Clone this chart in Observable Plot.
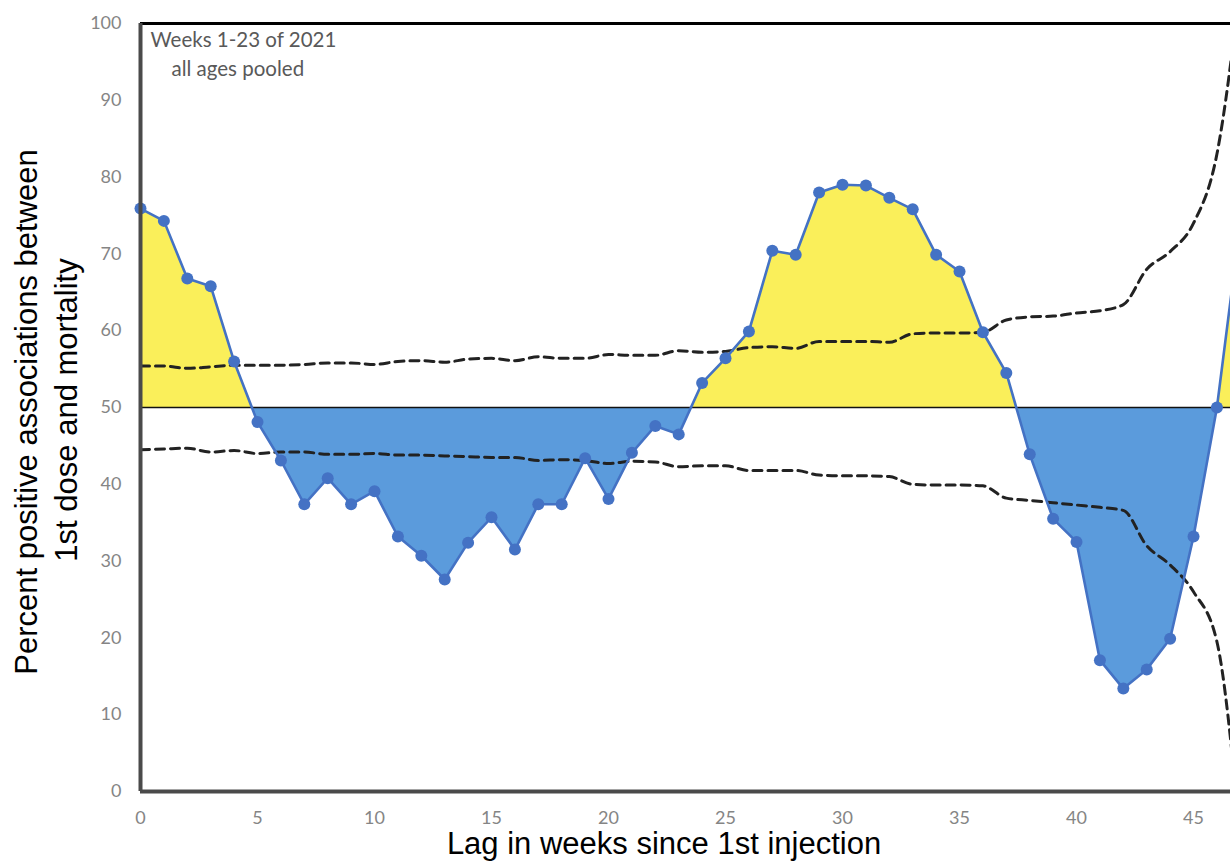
<!DOCTYPE html>
<html><head><meta charset="utf-8">
<script src="https://cdn.jsdelivr.net/npm/d3@7"></script>
<script src="https://cdn.jsdelivr.net/npm/@observablehq/plot@0.6"></script>
<style>
html,body{margin:0;padding:0;background:#fff;overflow:hidden;}
#chart svg{display:block;}
#chart svg g[aria-label^="x-axis"] text, #chart svg g[aria-label^="y-axis"] text{fill:#858585;}
</style></head><body><div id="chart"></div>
<script>
// Lag in weeks since 1st injection
const lag = [0,1,2,3,4,5,6,7,8,9,10,11,12,13,14,15,16,17,18,19,20,21,22,23,24,25,26,27,28,29,30,31,32,33,34,35,36,37,38,39,40,41,42,43,44,45,46,47];
// Percent positive associations between 1st dose and mortality
const pct = [75.9,74.3,66.8,65.8,56.0,48.1,43.1,37.4,40.8,37.4,39.1,33.2,30.7,27.6,32.4,35.7,31.5,37.4,37.4,43.4,38.1,44.1,47.6,46.5,53.2,56.4,59.9,70.4,69.9,78.0,79.0,78.9,77.3,75.8,69.9,67.7,59.8,54.5,43.9,35.5,32.5,17.1,13.4,15.9,19.9,33.2,50.0,74.0];
// Upper and lower dashed bounds
const upper = [55.4,55.4,55.1,55.3,55.5,55.5,55.5,55.6,55.8,55.8,55.6,56.0,56.1,55.9,56.3,56.4,56.1,56.6,56.4,56.4,56.9,56.8,56.8,57.4,57.2,57.3,57.8,57.9,57.7,58.6,58.6,58.6,58.5,59.6,59.7,59.7,59.8,61.4,61.8,61.9,62.3,62.6,63.4,68.0,70.3,74.0,83.0,105.0];
const lower = [44.5,44.6,44.7,44.2,44.4,44.0,44.2,44.2,43.9,43.9,44.0,43.8,43.8,43.7,43.6,43.5,43.5,43.1,43.2,43.1,42.7,43.0,42.9,42.3,42.4,42.4,41.8,41.8,41.8,41.2,41.1,41.1,41.0,40.0,39.9,39.9,39.8,38.2,37.9,37.6,37.3,37.0,36.6,32.0,29.5,26.0,19.5,-6.0];
const xTicks = [0,5,10,15,20,25,30,35,40,45];
const yTicks = [0,10,20,30,40,50,60,70,80,90,100];
const baseline = 50;
const note1 = "Weeks 1-23 of 2021";
const note2 = "all ages pooled";
const xTitle = "Lag in weeks since 1st injection";
const yTitle1 = "Percent positive associations between";
const yTitle2 = "1st dose and mortality";

const data = lag.map((w, i) => ({w, p: pct[i], hi: upper[i], lo: lower[i]}));

const W = 1230, H = 865;
const plot = Plot.plot({
  width: W, height: H,
  marginLeft: 140, marginRight: 0, marginTop: 23, marginBottom: 74,
  style: {fontFamily: "Lato, 'Open Sans', sans-serif", fontSize: "18px", background: "#fff"},
  x: {domain: [0, 46.58], ticks: xTicks, tickSize: 0, tickPadding: 20, label: null},
  y: {domain: [0, 100], ticks: yTicks, tickSize: 0, tickPadding: 19, label: null},
  marks: [
    Plot.areaY(data, {x: "w", y1: baseline, y2: "p", fill: "#FAEF5A", clip: true}),
    Plot.areaY(data, {x: "w", y1: baseline, y2: "p", fill: "#5B9BDC", clip: true}),
    Plot.line(data, {x: "w", y: "hi", stroke: "#222", strokeWidth: 3, strokeDasharray: "9,6", curve: "monotone-x", clip: true}),
    Plot.line(data, {x: "w", y: "lo", stroke: "#222", strokeWidth: 3, strokeDasharray: "9,6", curve: "monotone-x", clip: true}),
    Plot.ruleY([baseline], {stroke: "#111", strokeWidth: 1.6}),
    Plot.line(data, {x: "w", y: "p", stroke: "#4472C4", strokeWidth: 2.6}),
    Plot.dot(data, {x: "w", y: "p", r: 6, fill: "#4472C4", stroke: "none"}),
    Plot.ruleY([100], {stroke: "#000", strokeWidth: 3}),
    Plot.ruleX([0], {stroke: "#4a4a4a", strokeWidth: 4}),
    Plot.ruleY([0], {stroke: "#4a4a4a", strokeWidth: 4}),
    Plot.text([note1], {text: d => d, frameAnchor: "top-left", dx: 10, dy: 9, lineAnchor: "top", textAnchor: "start", fill: "#595959", fontSize: 20.5}),
    Plot.text([note2], {text: d => d, frameAnchor: "top-left", dx: 31, dy: 38, lineAnchor: "top", textAnchor: "start", fill: "#595959", fontSize: 20.5})
  ]
});

const svgEl = plot.tagName.toLowerCase() === "svg" ? plot : plot.querySelector("svg");
const svg = d3.select(svgEl);
const y50 = plot.scale("y").apply(baseline);
const defs = svg.append("defs");
defs.append("clipPath").attr("id", "clipAbove").append("rect")
  .attr("x", 0).attr("y", 0).attr("width", W).attr("height", y50);
defs.append("clipPath").attr("id", "clipBelow").append("rect")
  .attr("x", 0).attr("y", y50).attr("width", W).attr("height", H - y50);
const areas = svg.selectAll('g[aria-label="area"]').nodes();
if (areas[0]) d3.select(areas[0]).selectAll("path").attr("clip-path", "url(#clipAbove)");
if (areas[1]) d3.select(areas[1]).selectAll("path").attr("clip-path", "url(#clipBelow)");

const titleFont = "'Liberation Sans', Arial, sans-serif";
svg.append("text").text(xTitle)
  .attr("x", 664).attr("y", 854).attr("text-anchor", "middle")
  .attr("font-family", titleFont).attr("font-size", 31).attr("fill", "#000");
svg.append("text").text(yTitle1)
  .attr("transform", "translate(37,412) rotate(-90)").attr("text-anchor", "middle")
  .attr("font-family", titleFont).attr("font-size", 31).attr("fill", "#000");
svg.append("text").text(yTitle2)
  .attr("transform", "translate(77,410) rotate(-90)").attr("text-anchor", "middle")
  .attr("font-family", titleFont).attr("font-size", 31).attr("fill", "#000");

document.getElementById("chart").appendChild(plot);
</script></body></html>
